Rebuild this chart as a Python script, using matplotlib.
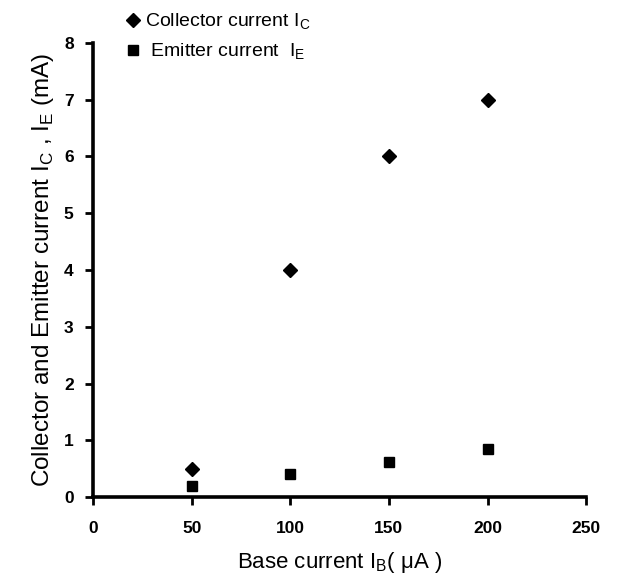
import matplotlib
matplotlib.use("Agg")
import matplotlib.pyplot as plt

#%% Data
base_current = [50, 100, 150, 200]          # I_B (uA)
collector_current = [0.5, 4.0, 6.0, 7.0]    # I_C (mA)
emitter_current = [0.2, 0.4, 0.62, 0.85]    # I_E (mA)
x_ticks = [0, 50, 100, 150, 200, 250]
y_ticks = [0, 1, 2, 3, 4, 5, 6, 7, 8]

#%% Style
plt.rcParams['font.family'] = ['Liberation Sans', 'DejaVu Sans']
plt.rcParams['mathtext.fontset'] = 'custom'
plt.rcParams['mathtext.rm'] = 'Liberation Sans'

fig = plt.figure(figsize=(6.42, 5.87), dpi=100)
ax = fig.add_axes([0.145, 0.153, 0.768, 0.774])

ax.plot(base_current, collector_current, linestyle='none', marker='D',
        markersize=7, color='black', label=r'Collector current I$_\mathregular{C}$')
ax.plot(base_current, emitter_current, linestyle='none', marker='s',
        markersize=6.5, color='black', label=r' Emitter current  I$_\mathregular{E}$')

ax.set_xlim(0, 250)
ax.set_ylim(0, 8)
ax.set_xticks(x_ticks)
ax.set_yticks(y_ticks)
for lbl in ax.get_xticklabels() + ax.get_yticklabels():
    lbl.set_fontweight('bold')
    lbl.set_fontsize(12.5)

ax.spines['top'].set_visible(False)
ax.spines['right'].set_visible(False)
ax.spines['left'].set_linewidth(2.6)
ax.spines['bottom'].set_linewidth(2.6)
ax.tick_params(axis='both', direction='out', length=6, width=2)
ax.tick_params(axis='x', pad=11)
ax.tick_params(axis='y', pad=8)

ax.set_xlabel(r'Base current I$_\mathregular{B}$( μA )', fontsize=16, labelpad=10)
ax.set_ylabel(r'Collector and Emitter current I$_\mathregular{C}$ , I$_\mathregular{E}$ (mA)',
              fontsize=17.5, labelpad=6)

ax.legend(loc='upper left', bbox_to_anchor=(0.165, 1.01), bbox_transform=fig.transFigure,
          frameon=False, fontsize=14, handletextpad=0.1, handlelength=1.0,
          labelspacing=0.5)

fig.savefig("out.png", dpi=100)
